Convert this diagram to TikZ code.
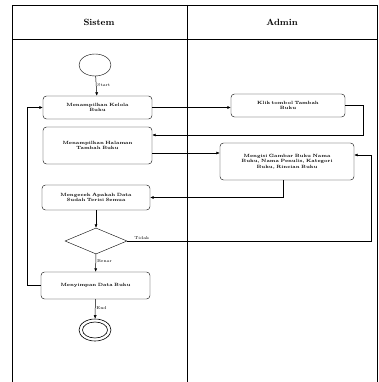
\documentclass[tikz,border=0pt]{standalone}
\usetikzlibrary{shapes.geometric,arrows.meta}
\begin{document}
\begin{tikzpicture}[x=1pt,y=-1pt,
  box/.style={draw, rounded corners=3.5pt, align=center, font=\bfseries\fontsize{4.6}{5.6}\selectfont, inner sep=1pt},
  lbl/.style={font=\fontsize{4.2}{5}\selectfont, inner sep=1pt},
  hdr/.style={font=\bfseries\fontsize{9}{10}\selectfont},
  arr/.style={-{Latex[length=3.5pt,width=3pt]}, line width=0.5pt},
  lane/.style={line width=0.7pt}]
\useasboundingbox (0,0) rectangle (379,382);
% swimlanes
\draw[lane] (12,382) -- (12,5) -- (377,5) -- (377,382);
\draw[lane] (12,39) -- (377,39);
\draw[lane] (187,5) -- (187,382);
\node[hdr] (hs) at (99,22) {Sistem};
\node[hdr] (ha) at (282,22) {Admin};
% nodes
\node[draw, ellipse, minimum width=32pt, minimum height=22pt, inner sep=0pt] (start) at (95,65) {};
\node[box, minimum width=109pt, minimum height=23pt, text width=95pt] (b1) at (97.5,107.5) {Menampilkan Kelola\\Buku};
\node[box, minimum width=114pt, minimum height=23pt, text width=95pt] (klik) at (288,105.5) {Klik tombol Tambah\\Buku};
\node[box, minimum width=109pt, minimum height=37pt, text width=95pt] (b2) at (97.5,145.5) {Menampilkan Halaman\\Tambah Buku};
\node[box, minimum width=134pt, minimum height=37pt, text width=120pt] (b3) at (287,161.5) {Mengisi Gambar Buku Nama\\Buku, Nama Penulis, Kategori\\Buku, Rincian Buku};
\node[box, minimum width=108pt, minimum height=25pt, text width=95pt] (b4) at (96,197.5) {Mengecek Apakah Data\\Sudah Terisi Semua};
\node[draw, diamond, minimum width=62pt, minimum height=26pt, inner sep=0pt] (d) at (96,241) {};
\node[box, minimum width=109pt, minimum height=27pt, text width=95pt] (b5) at (95.5,285.5) {Menyimpan Data Buku};
\node[draw, ellipse, minimum width=32pt, minimum height=22pt, inner sep=0pt, line width=0.6pt] (end) at (95,330) {};
\node[draw, ellipse, minimum width=25pt, minimum height=16pt, inner sep=0pt, line width=0.6pt] (endin) at (95,330) {};
% connectors
\draw[arr] (start) -- node[lbl, right, pos=0.45] {Start} (b1);
\draw[arr] (b1.east) -- (b1.east -| klik.west);
\coordinate (k1) at (363,105.5);
\coordinate (k2) at (363,135);
\draw[arr] (klik.east) -- (k1) -- (k2) -- (k2 -| b2.east);
\coordinate (b2o) at (152,153);
\draw[arr] (b2o) -- (b2o -| b3.west);
\coordinate (b3o) at (283,180);
\coordinate (b3t) at (283,197.5);
\draw[arr] (b3o) -- (b3t) -- (b4.east);
\draw[arr] (b4) -- (d);
\coordinate (t1) at (371,241);
\coordinate (t2) at (371,155);
\draw[arr] (d.east) -- node[lbl, above, pos=0.06] {Tidak} (t1) -- (t2) -- (t2 -| b3.east);
\draw[arr] (d) -- node[lbl, right, pos=0.4] {Benar} (b5);
\coordinate (l1) at (27,285.5);
\coordinate (l2) at (27,107.5);
\draw[arr] (b5.west) -- (l1) -- (l2) -- (b1.west);
\draw[arr] (b5) -- node[lbl, right, pos=0.45] {End} (end);
\end{tikzpicture}
\end{document}
